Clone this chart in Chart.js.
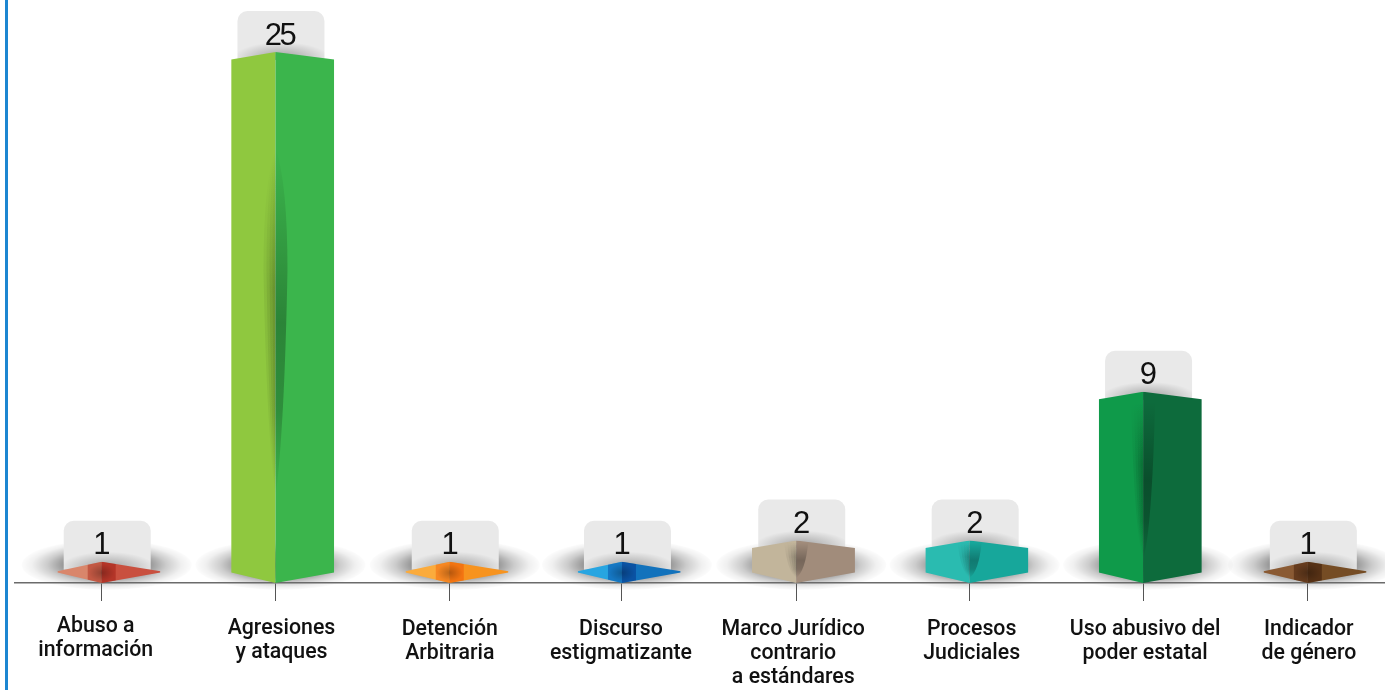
<!DOCTYPE html>
<html>
<head>
<meta charset="utf-8">
<title>Chart</title>
<script src="https://cdn.jsdelivr.net/npm/chart.js@4"></script>
<style>
  html, body { margin: 0; padding: 0; background: #fff; overflow: hidden; }
  #wrap { position: relative; width: 1385px; height: 690px; }
  #edge { position: absolute; left: 5px; top: 0; width: 3px; height: 690px; background: #1c86d1; }
</style>
</head>
<body>
<div id="wrap">
  <canvas id="chart" width="1385" height="690"></canvas>
  <div id="edge"></div>
</div>
<script>
const tickLabels = [
  ["Abuso a", "información"],
  ["Agresiones", "y ataques"],
  ["Detención", "Arbitraria"],
  ["Discurso", "estigmatizante"],
  ["Marco Jurídico", "contrario", "a estándares"],
  ["Procesos", "Judiciales"],
  ["Uso abusivo del", "poder estatal"],
  ["Indicador", "de género"]
];
const values = [1, 25, 1, 1, 2, 2, 9, 1];
const leftColors = ["#d9866b", "#8fc83f", "#fbab3c", "#27a5e1", "#c2b59b", "#2abbb0", "#0f9a4a", "#8a5a33"];
const rightColors = ["#c9503f", "#3bb54c", "#f7931e", "#1272bc", "#a18c7b", "#17a79b", "#0d6b3c", "#754c24"];

// the axis slots are not quite even in the original, the last one sits closer
const slots = [0, 1.002, 2.007, 3, 4.005, 5.005, 6.005, 6.955];
const labelNudgeX = [-6, 6, 0, -1, -3, 2, 2, 1];
const labelNudgeY = [-3, -1, 0, 0, 0, 0, 0, 0];

// prism look for the bars: two faces meeting on the tick, apex up and down
Chart.BarElement.prototype.draw = function (ctx) {
  const x = this.x, top = this.y, base = this.base;
  const left = x - this.width * 0.43, right = x + this.width * 0.57;
  const h = base - top;
  const flat = h < 30;
  const tall = h > 300;
  const topDrop = flat ? 9.5 : 7.5;
  const botRise = 10.5;

  ctx.save();
  ctx.beginPath();
  ctx.moveTo(x, top);
  ctx.lineTo(right, top + topDrop);
  ctx.lineTo(right, base - botRise);
  ctx.lineTo(x, base);
  ctx.lineTo(left, base - botRise);
  ctx.lineTo(left, top + topDrop);
  ctx.closePath();
  ctx.clip();

  ctx.fillStyle = this.options.borderColor;
  ctx.fillRect(left, top, x - left, h);
  ctx.fillStyle = this.options.backgroundColor;
  ctx.fillRect(x, top, right - x, h);

  if (flat) {
    // darker band round the apex, same hue as the right face
    ctx.save();
    ctx.globalCompositeOperation = "multiply";
    ctx.globalAlpha = 0.5;
    ctx.fillStyle = this.options.backgroundColor;
    ctx.fillRect(x - 14, top, 28, h);
    ctx.restore();
    ctx.save();
    ctx.translate(x, top + 11);
    ctx.scale(13, 9);
    const spot = ctx.createRadialGradient(0, 0, 0, 0, 0, 1);
    spot.addColorStop(0, "rgba(0,0,0,0.25)");
    spot.addColorStop(1, "rgba(0,0,0,0)");
    ctx.fillStyle = spot;
    ctx.fillRect(-1, -1, 2, 2);
    ctx.restore();
  } else {
    const y0 = top + h * (tall ? 0.18 : 0.05);
    const y1 = base - h * (tall ? 0.16 : 0.12);
    const spindle = (sideX, alpha, peak) => {
      const g = ctx.createLinearGradient(0, y0, 0, y1);
      g.addColorStop(0, "rgba(0,0,0,0)");
      g.addColorStop(peak, "rgba(0,0,0," + alpha + ")");
      g.addColorStop(0.75, "rgba(0,0,0," + alpha * 0.8 + ")");
      g.addColorStop(1, "rgba(0,0,0,0)");
      ctx.fillStyle = g;
      ctx.beginPath();
      ctx.moveTo(x, y0);
      if (tall) {
        ctx.quadraticCurveTo(x + sideX, y0 + (y1 - y0) * 0.1, x + sideX, y0 + (y1 - y0) * 0.35);
      } else {
        // shorter bars keep the full width right from the top
        ctx.lineTo(x + sideX, y0);
      }
      ctx.quadraticCurveTo(x + sideX * 0.75, y0 + (y1 - y0) * 0.8, x, y1);
      ctx.fill();
    };
    // left side fades outward, so stack a few narrowing shapes
    spindle(-12, 0.06, 0.4);
    spindle(-9, 0.07, 0.4);
    spindle(-6, 0.08, 0.4);
    spindle(-3, 0.08, 0.4);
    spindle(12, 0.27, 0.5);
  }
  ctx.restore();
};

const prismExtras = {
  id: "prismExtras",
  beforeDraw(chart) {
    // soft ground shadows, under the axis line
    const ctx = chart.ctx;
    chart.getDatasetMeta(0).data.forEach(bar => {
      ctx.save();
      ctx.translate(bar.x + 5, bar.base - 18);
      ctx.scale(85, 25);
      const g = ctx.createRadialGradient(0, 0, 0, 0, 0, 1);
      g.addColorStop(0, "rgba(0,0,0,0.58)");
      g.addColorStop(0.5, "rgba(0,0,0,0.42)");
      g.addColorStop(0.7, "rgba(0,0,0,0.2)");
      g.addColorStop(0.88, "rgba(0,0,0,0.06)");
      g.addColorStop(1, "rgba(0,0,0,0.012)");
      ctx.fillStyle = g;
      ctx.beginPath();
      ctx.arc(0, 0, 1, 0, Math.PI * 2);
      ctx.fill();
      ctx.restore();
    });
  },
  beforeDatasetsDraw(chart) {
    const ctx = chart.ctx;
    chart.getDatasetMeta(0).data.forEach(bar => {
      ctx.save();
      ctx.fillStyle = "#e9e9e9";
      ctx.beginPath();
      ctx.roundRect(bar.x - 38, bar.y - 41, 87, 49, [10, 10, 0, 0]);
      ctx.fill();
      ctx.clip();
      ctx.translate(bar.x + 6, bar.y + 6);
      ctx.scale(48, 16);
      const g = ctx.createRadialGradient(0, 0, 0, 0, 0, 1);
      g.addColorStop(0, "rgba(0,0,0,0.32)");
      g.addColorStop(1, "rgba(0,0,0,0)");
      ctx.fillStyle = g;
      ctx.fillRect(-1, -1, 2, 2);
      ctx.restore();
    });
  },
  afterDatasetsDraw(chart) {
    const ctx = chart.ctx;
    ctx.save();
    ctx.fillStyle = "#111";
    ctx.font = "31px 'Liberation Sans'";
    ctx.letterSpacing = "-2.5px";
    ctx.textAlign = "center";
    ctx.textBaseline = "middle";
    chart.getDatasetMeta(0).data.forEach((bar, i) => {
      const shift = values[i] === 1 ? -1 : 4;
      ctx.fillText(String(values[i]), bar.x + shift, bar.y - 16);
    });
    ctx.restore();
  }
};

new Chart(document.getElementById("chart"), {
  type: "bar",
  data: {
    datasets: [{
      data: slots.map((s, i) => ({ x: s, y: values[i] })),
      backgroundColor: rightColors,
      borderColor: leftColors,
      borderWidth: 0,
      barThickness: 103
    }]
  },
  plugins: [prismExtras],
  options: {
    responsive: false,
    animation: false,
    layout: { padding: { left: 15, right: 0, top: 0, bottom: 0 } },
    plugins: { legend: { display: false }, tooltip: { enabled: false } },
    scales: {
      x: {
        type: "linear",
        min: -0.5,
        max: 7.4,
        offset: false,
        afterBuildTicks(scale) {
          scale.ticks = slots.map(v => ({ value: v }));
        },
        afterFit(scale) {
          scale.height = 107;
        },
        afterUpdate(scale) {
          // small per-label shifts, the original labels are placed by hand
          const compute = scale._computeLabelItems.bind(scale);
          scale._computeLabelItems = area => compute(area).map((item, i) => {
            const t = item.options.translation;
            return { ...item, options: { ...item.options, translation: [t[0] + labelNudgeX[i], t[1] + labelNudgeY[i]] } };
          });
        },
        grid: { offset: false, drawOnChartArea: false, drawTicks: true, tickLength: 18, color: "#555", lineWidth: 1 },
        border: { color: "#6b6b6b", width: 1.5 },
        ticks: {
          autoSkip: false,
          maxRotation: 0,
          minRotation: 0,
          padding: 17,
          color: "#111",
          font: { family: "Roboto", size: 21.3, weight: "500", lineHeight: 1.13 },
          callback: (v, i) => tickLabels[i]
        }
      },
      y: { display: false, min: 0, max: 27.45 }
    }
  }
});
</script>
</body>
</html>
